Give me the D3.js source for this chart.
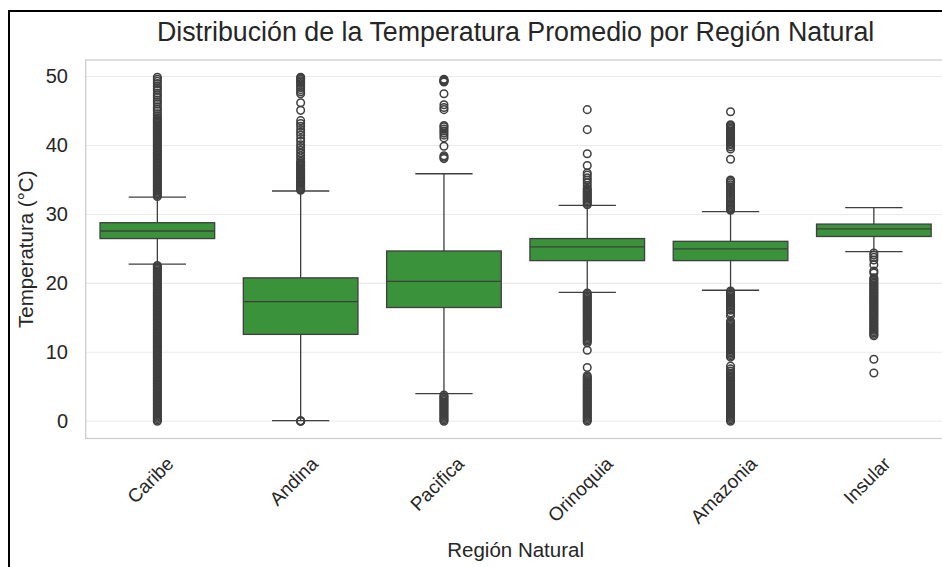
<!DOCTYPE html>
<html>
<head>
<meta charset="utf-8">
<script src="https://cdn.jsdelivr.net/npm/d3@7"></script>
<style>
  html, body { margin: 0; padding: 0; background: #ffffff; }
  svg { display: block; font-family: "Liberation Sans", Arial, sans-serif; }
</style>
</head>
<body>
<svg id="chart" width="942" height="567"></svg>
<script>
// Temperature distribution per natural region (box plot summary + outliers)
const regions = ["Caribe", "Andina", "Pacifica", "Orinoquia", "Amazonia", "Insular"];
const q1Values = [26.5, 12.6, 16.5, 23.3, 23.3, 26.8];
const medianValues = [27.6, 17.35, 20.3, 25.3, 25.0, 27.9];
const q3Values = [28.8, 20.8, 24.7, 26.5, 26.1, 28.6];
const whiskerLow = [22.8, 0.1, 4.0, 18.7, 19.0, 24.6];
const whiskerHigh = [32.5, 33.4, 35.9, 31.3, 30.4, 31.0];

const outliersCaribe = [
  0.0, 0.2, 0.4, 0.6, 0.8, 1.0, 1.2, 1.4, 1.6, 1.8, 2.0, 2.2, 2.4, 2.6, 2.8, 3.0, 3.2, 3.4,
  3.6, 3.8, 4.0, 4.2, 4.4, 4.6, 4.8, 5.0, 5.2, 5.4, 5.6, 5.8, 6.0, 6.2, 6.4, 6.6, 6.8, 7.0,
  7.2, 7.4, 7.6, 7.8, 8.0, 8.2, 8.4, 8.6, 8.8, 9.0, 9.2, 9.4, 9.6, 9.8, 10.0, 10.2, 10.4,
  10.6, 10.8, 11.0, 11.2, 11.4, 11.6, 11.8, 12.0, 12.2, 12.4, 12.6, 12.8, 13.0, 13.2, 13.4,
  13.6, 13.8, 14.0, 14.2, 14.4, 14.6, 14.8, 15.0, 15.2, 15.4, 15.6, 15.8, 16.0, 16.2, 16.4,
  16.6, 16.8, 17.0, 17.2, 17.4, 17.6, 17.8, 18.0, 18.2, 18.4, 18.6, 18.8, 19.0, 19.2, 19.4,
  19.6, 19.8, 20.0, 20.2, 20.4, 20.6, 20.8, 21.0, 21.2, 21.4, 21.6, 21.8, 22.0, 22.2, 22.4, 22.6,
  32.6, 32.8, 33.0, 33.2, 33.4, 33.6, 33.8, 34.0, 34.2, 34.4, 34.6, 34.8, 35.0, 35.2, 35.4,
  35.6, 35.8, 36.0, 36.2, 36.4, 36.6, 36.8, 37.0, 37.2, 37.4, 37.6, 37.8, 38.0, 38.2, 38.4,
  38.6, 38.8, 39.0, 39.2, 39.4, 39.6, 39.8, 40.0, 40.2, 40.4, 40.6, 40.8, 41.0, 41.2, 41.4,
  41.6, 41.8, 42.0, 42.2, 42.4, 42.6, 42.8, 43.0, 43.2, 43.4, 43.6, 43.8, 44.0, 44.3, 44.6,
  45.0, 45.3, 45.6, 46.0, 46.3, 46.6, 47.0, 47.3, 47.6, 48.0, 48.3, 48.6, 49.0, 49.3, 49.6, 49.9
];
const outliersAndina = [
  0.0, 0.02, 0.04, 0.06,
  33.5, 33.7, 33.9, 34.1, 34.3, 34.5, 34.7, 34.9, 35.1, 35.3, 35.5, 35.7, 35.9, 36.1, 36.3,
  36.5, 36.7, 36.9, 37.1, 37.3, 37.5, 37.7, 38.1, 38.5, 38.9, 39.3, 39.7, 40.1, 40.6, 41.0,
  41.5, 41.9, 42.3, 42.8, 43.2, 43.6, 45.1, 46.2, 47.5, 47.8, 48.1, 48.4, 48.7, 49.0, 49.2,
  49.4, 49.6, 49.8, 49.9
];
const outliersPacifica = [
  0.0, 0.2, 0.4, 0.6, 0.8, 1.0, 1.2, 1.4, 1.6, 1.8, 2.0, 2.2, 2.4, 2.6, 2.8, 3.0, 3.2, 3.4,
  3.6, 3.8,
  38.1, 38.3, 38.5, 39.9, 41.1, 41.5, 41.8, 42.1, 42.4, 42.7, 42.9, 45.2, 45.5, 45.9, 47.5,
  49.2, 49.3, 49.4, 49.5, 49.6
];
const outliersOrinoquia = [
  0.0, 0.2, 0.4, 0.6, 0.8, 1.0, 1.2, 1.4, 1.6, 1.8, 2.0, 2.2, 2.4, 2.6, 2.8, 3.0, 3.2, 3.4,
  3.6, 3.8, 4.0, 4.2, 4.4, 4.6, 4.8, 5.0, 5.2, 5.4, 5.6, 5.8, 6.0, 6.2, 6.4, 6.6, 7.8,
  10.3, 11.4, 11.6, 11.8, 12.0, 12.2, 12.4, 12.6, 12.8, 13.0, 13.2, 13.4, 13.6, 13.8, 14.0,
  14.2, 14.4, 14.6, 14.8, 15.0, 15.2, 15.4, 15.6, 15.8, 16.0, 16.2, 16.4, 16.6, 16.8, 17.0,
  17.2, 17.4, 17.6, 17.8, 18.0, 18.2, 18.4, 18.6,
  31.4, 31.6, 31.8, 32.0, 32.2, 32.4, 32.6, 32.8, 33.0, 33.2, 33.4, 33.6, 33.8, 34.2, 34.6,
  35.0, 35.3, 35.7, 36.0, 37.1, 38.8, 42.3, 45.2
];
const outliersAmazonia = [
  0.0, 0.2, 0.4, 0.6, 0.8, 1.0, 1.2, 1.4, 1.6, 1.8, 2.0, 2.2, 2.4, 2.6, 2.8, 3.0, 3.2, 3.4,
  3.6, 3.8, 4.0, 4.2, 4.4, 4.6, 4.8, 5.0, 5.2, 5.4, 5.6, 5.8, 6.0, 6.2, 6.4, 6.6, 6.8, 7.0,
  7.3, 7.6, 8.0, 9.3, 9.5, 9.7, 9.9, 10.1, 10.3, 10.5, 10.7, 10.9, 11.1, 11.3, 11.5, 11.7,
  11.9, 12.1, 12.3, 12.5, 12.7, 12.9, 13.1, 13.3, 13.5, 13.7, 13.9, 14.1, 14.3, 14.5, 15.3,
  15.7, 16.1, 16.3, 16.5, 16.7, 16.9, 17.1, 17.3, 17.5, 17.7, 17.9, 18.1, 18.3, 18.5, 18.7, 18.9,
  30.6, 30.8, 31.0, 31.2, 31.4, 31.6, 31.9, 32.2, 32.5, 32.8, 33.1, 33.4, 33.7, 34.0, 34.3,
  34.6, 34.8, 35.0, 38.0, 39.5, 39.8, 40.1, 40.3, 40.5, 40.7, 40.9, 41.1, 41.3, 41.5, 41.7,
  41.9, 42.1, 42.3, 42.5, 42.7, 42.9, 43.0, 44.9
];
const outliersInsular = [
  7.0, 9.0, 12.4, 12.6, 12.8, 13.0, 13.2, 13.4, 13.6, 13.8, 14.0, 14.2, 14.4, 14.6, 14.8,
  15.0, 15.2, 15.4, 15.6, 15.8, 16.0, 16.2, 16.4, 16.6, 16.8, 17.0, 17.2, 17.4, 17.6, 17.8,
  18.0, 18.2, 18.4, 18.6, 18.8, 19.0, 19.2, 19.4, 19.6, 19.8, 20.0, 20.2, 20.4, 20.6, 20.8,
  21.5, 21.8, 22.7, 23.4, 23.8, 24.1, 24.4
];
const outlierLists = [outliersCaribe, outliersAndina, outliersPacifica,
                      outliersOrinoquia, outliersAmazonia, outliersInsular];
const yTicks = [0, 10, 20, 30, 40, 50];

const titleText = "Distribución de la Temperatura Promedio por Región Natural";
const xLabelText = "Región Natural";
const yLabelText = "Temperatura (°C)";

// Layout
const plot = { left: 85.7, right: 945.5, top: 60, bottom: 438.5 };
const boxFill = "#3a923a";
const lineColor = "#3f3f3f";
const textColor = "#262626";

const svg = d3.select("#chart");

const x = d3.scaleBand().domain(regions).range([plot.left, plot.right]).paddingInner(0).paddingOuter(0);
const y = d3.scaleLinear().domain([-2.5, 52.4]).range([plot.bottom, plot.top]);

// Figure border (left and top edges)
svg.append("line").attr("x1", 9).attr("x2", 942).attr("y1", 11).attr("y2", 11)
  .attr("stroke", "#000").attr("stroke-width", 2);
svg.append("line").attr("x1", 9).attr("x2", 9).attr("y1", 10).attr("y2", 567)
  .attr("stroke", "#000").attr("stroke-width", 2);

// Horizontal grid
svg.append("g")
  .selectAll("line")
  .data(yTicks)
  .join("line")
  .attr("x1", plot.left).attr("x2", plot.right)
  .attr("y1", d => y(d)).attr("y2", d => y(d))
  .attr("stroke", "#ebebeb").attr("stroke-width", 1.1);

// Axes frame
svg.append("rect")
  .attr("x", plot.left).attr("y", plot.top)
  .attr("width", plot.right - plot.left).attr("height", plot.bottom - plot.top)
  .attr("fill", "none").attr("stroke", "#cccccc").attr("stroke-width", 1.25);

// Y axis tick labels
const yAxis = d3.axisLeft(y).tickValues(yTicks).tickSize(0).tickPadding(0).tickFormat(d3.format("d"));
const yAxisG = svg.append("g").attr("transform", `translate(${68},0)`).call(yAxis);
yAxisG.select(".domain").remove();
yAxisG.selectAll("text")
  .attr("font-size", 20).attr("fill", textColor)
  .attr("font-family", "Liberation Sans, Arial, sans-serif");

// Boxes
const bw = x.bandwidth() * 0.8;
const groups = svg.append("g").selectAll("g")
  .data(regions.map((r, i) => ({
    region: r, q1: q1Values[i], med: medianValues[i], q3: q3Values[i],
    lo: whiskerLow[i], hi: whiskerHigh[i], out: outlierLists[i]
  })))
  .join("g")
  .attr("transform", d => `translate(${x(d.region) + x.bandwidth() / 2},0)`);

// whiskers
groups.append("line").attr("x1", 0).attr("x2", 0)
  .attr("y1", d => y(d.q3)).attr("y2", d => y(d.hi))
  .attr("stroke", lineColor).attr("stroke-width", 1.3);
groups.append("line").attr("x1", 0).attr("x2", 0)
  .attr("y1", d => y(d.q1)).attr("y2", d => y(d.lo))
  .attr("stroke", lineColor).attr("stroke-width", 1.3);
// caps
groups.append("line").attr("x1", -bw / 4).attr("x2", bw / 4)
  .attr("y1", d => y(d.hi)).attr("y2", d => y(d.hi))
  .attr("stroke", lineColor).attr("stroke-width", 1.3);
groups.append("line").attr("x1", -bw / 4).attr("x2", bw / 4)
  .attr("y1", d => y(d.lo)).attr("y2", d => y(d.lo))
  .attr("stroke", lineColor).attr("stroke-width", 1.3);
// box
groups.append("rect")
  .attr("x", -bw / 2).attr("width", bw)
  .attr("y", d => y(d.q3)).attr("height", d => y(d.q1) - y(d.q3))
  .attr("fill", boxFill).attr("stroke", lineColor).attr("stroke-width", 1.3);
// median
groups.append("line").attr("x1", -bw / 2).attr("x2", bw / 2)
  .attr("y1", d => y(d.med)).attr("y2", d => y(d.med))
  .attr("stroke", lineColor).attr("stroke-width", 1.3);
// outliers
groups.selectAll("circle")
  .data(d => d.out)
  .join("circle")
  .attr("cx", 0).attr("cy", v => y(v)).attr("r", 3.8)
  .attr("fill", "none").attr("stroke", lineColor).attr("stroke-width", 1.5);

// X tick labels, rotated 45°, bounding box centred under each tick
const xFont = 19;
const xLabels = svg.append("g").selectAll("text")
  .data(regions)
  .join("text")
  .attr("font-size", xFont).attr("fill", textColor)
  .attr("text-anchor", "middle")
  .text(d => d);
xLabels.each(function (d) {
  const w = this.getComputedTextLength();
  const h = xFont * 1.15;
  const box = (w + h) * Math.SQRT1_2;
  const cx = x(d) + x.bandwidth() / 2 - 7;
  const cy = plot.bottom + 14 + box / 2;
  d3.select(this)
    .attr("x", 0).attr("y", 0).attr("dy", "0.35em")
    .attr("transform", `translate(${cx},${cy}) rotate(-45)`);
});

// Axis titles
svg.append("text")
  .attr("x", (plot.left + plot.right) / 2).attr("y", 557)
  .attr("text-anchor", "middle").attr("font-size", 20.5).attr("fill", textColor)
  .text(xLabelText);
svg.append("text")
  .attr("transform", `translate(33,${(plot.top + plot.bottom) / 2}) rotate(-90)`)
  .attr("text-anchor", "middle").attr("font-size", 20.5).attr("fill", textColor)
  .text(yLabelText);

// Title
svg.append("text")
  .attr("x", (plot.left + plot.right) / 2).attr("y", 41)
  .attr("text-anchor", "middle").attr("font-size", 26.8).attr("fill", textColor)
  .text(titleText);
</script>
</body>
</html>
